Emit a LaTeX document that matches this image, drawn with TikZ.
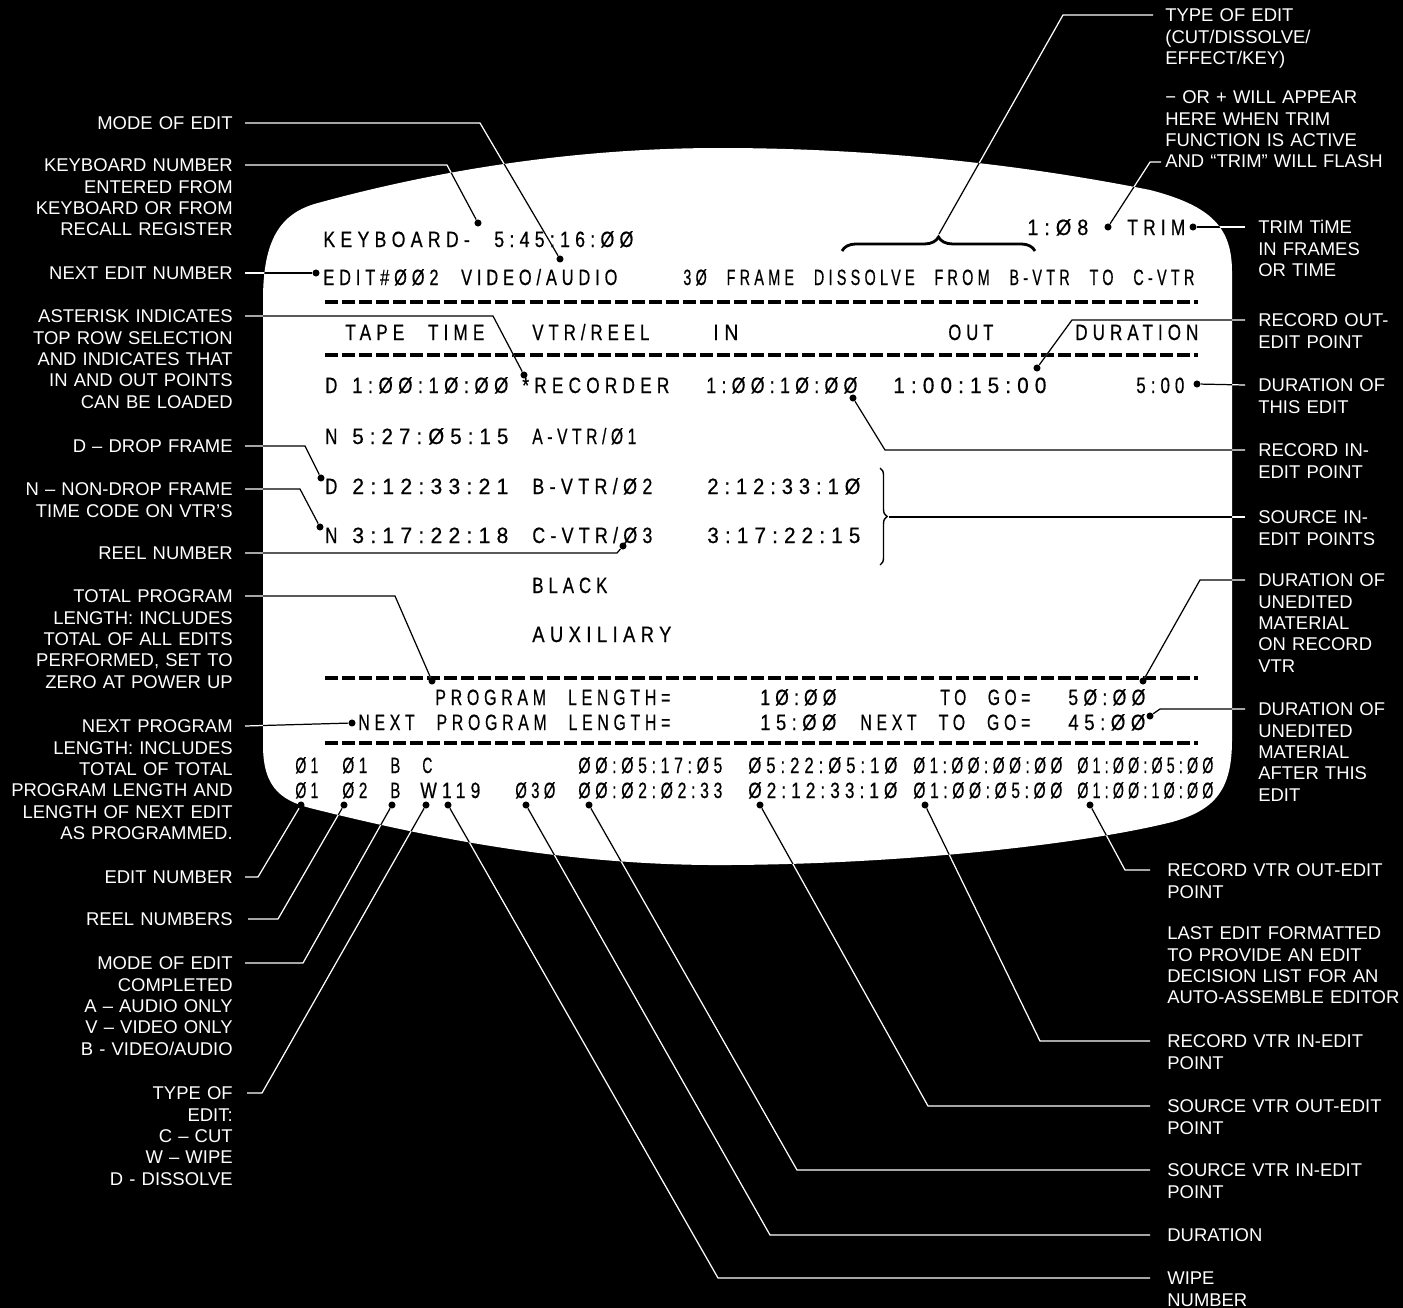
\documentclass[tikz,border=0pt]{standalone}
\usepackage{graphicx}
\usepackage{fontspec}
\setmainfont{Liberation Sans}
\newfontfamily\crtfont[FakeStretch=0.74,LetterSpace=22,WordSpace=2.4,FakeBold=0.5]{Liberation Sans}
\usetikzlibrary{decorations.pathreplacing}
\newdimen\pxunit \pxunit=0.02cm
% screen text, squeezed to the width it takes on the screen
\newcommand{\crt}[5]{%
  \node[crt] (#1) at (#2,#4) {\resizebox{\numexpr#3-#2\relax\pxunit}{\height}{#5}};%
}
\newcommand{\screenpath}{(263,300) -- (263,745) .. controls (263,790) and (283,802) .. (318,810)
  .. controls (470,848) and (600,866) .. (730,865) .. controls (900,864) and (1080,845) .. (1172,822)
  .. controls (1215,810) and (1232,790) .. (1232,740) -- (1232,272) .. controls (1232,228) and (1212,206) .. (1150,190)
  .. controls (1000,160) and (850,148) .. (720,148) .. controls (560,148) and (420,175) .. (318,203)
  .. controls (280,213) and (263,240) .. (263,300) -- cycle}
\tikzset{
  crt/.style={anchor=base west,inner sep=0pt,text=black,font={\crtfont\fontsize{12.6}{13}\selectfont}},
  lbl/.style={anchor=base east,inner sep=0pt,text width=150pt,align=right,text=white,font={\fontsize{10.5}{12.2}\selectfont}},
  rlbl/.style={lbl,anchor=base west,align=left},
  dot/.style={circle,fill=black,inner sep=0pt,minimum size=4pt},
  lead/.style={line width=0.7pt},
  dashrule/.style={line width=2pt,dash pattern=on 7.4pt off 2.3pt},
}
% all call-outs, drawn once in white and once in black inside the screen
\newcommand{\leaderlines}{%
  \draw[lead] ([shift={(12,-6.6)}]l-mode.base east) -- ++(235,0) -- (d-mode);
  \draw[lead] ([shift={(12,-6.6)}]l-kbd.base east) -- ++(202,0) -- (d-kbd);
  \draw[lead] ([shift={(12,-6.6)}]l-next.base east) -- (d-next);
  \draw[lead] ([shift={(12,-6.6)}]l-ast.base east) -- ++(248,0) -- (d-ast);
  \draw[lead] ([shift={(12,-6.6)}]l-drop.base east) -- ++(60,0) -- (d-drop);
  \draw[lead] ([shift={(12,-6.6)}]l-ndrop.base east) -- ++(55,0) -- (d-ndrop);
  \draw[lead] ([shift={(12,-6.6)}]l-reel.base east) -- ++(372,0) -- (d-reel);
  \draw[lead] ([shift={(12,-6.6)}]l-total.base east) -- ++(150,0) -- (d-total);
  \draw[lead] ([shift={(12,-6.6)}]l-nextprog.base east) -- (d-nextprog);
  \draw[lead] ([shift={(12,-6.6)}]l-ednum.base east) -- ++(13,0) -- (d-ednum);
  \draw[lead] ([shift={(15,-6.6)}]l-reels.base east) -- ++(30,0) -- (d-reels);
  \draw[lead] ([shift={(12,-6.6)}]l-modec.base east) -- ++(58,0) -- (d-modec);
  \draw[lead] ([shift={(14,-6.6)}]l-type.base east) -- ++(15,0) -- (d-type);
  \draw[lead] ([shift={(-12,-6.6)}]r-type.base west) -- ++(-90,0) -- (brace-top);
  \draw[lead] ([shift={(-4,58.5)}]r-sign.base west) -- ++(-11,0) -- (d-trimsign);
  \draw[lead] ([shift={(-13,-6.6)}]r-trim.base west) -- (d-trim);
  \draw[lead] ([shift={(-13,-6.6)}]r-recout.base west) -- ++(-173,0) -- (d-recout);
  \draw[lead] ([shift={(-13,-6.6)}]r-durthis.base west) -- (d-durthis);
  \draw[lead] ([shift={(-13,-6.6)}]r-recin.base west) -- ++(-360,0) -- (d-recin);
  \draw[lead] ([shift={(-13,-6.6)}]r-srcinpts.base west) -- (brace-src);
  \draw[lead] ([shift={(-13,-6.6)}]r-togo.base west) -- ++(-45,0) -- (d-togo);
  \draw[lead] ([shift={(-13,-6.6)}]r-nexttogo.base west) -- ++(-85,0) -- (d-nexttogo);
  \draw[lead] ([shift={(-17,-6.6)}]r-recout2.base west) -- ++(-25,0) -- (d-recout2);
  \draw[lead] ([shift={(-17,-6.6)}]r-recin2.base west) -- ++(-110,0) -- (d-recin2);
  \draw[lead] ([shift={(-17,-6.6)}]r-srcout.base west) -- ++(-222,0) -- (d-srcout);
  \draw[lead] ([shift={(-17,-6.6)}]r-srcin.base west) -- ++(-353,0) -- (d-srcin);
  \draw[lead] ([shift={(-17,-6.6)}]r-dur.base west) -- ++(-380,0) -- (d-dur);
  \draw[lead] ([shift={(-17,-6.6)}]r-wipe.base west) -- ++(-432,0) -- (d-wipe);
}

\begin{document}
\begin{tikzpicture}[x=0.02cm,y=-0.02cm]
  \path[fill=black,use as bounding box] (0,0) rectangle (1403,1308);
  \fill[white] \screenpath;

  % screen
  \crt{kbd}{323}{633}{247}{KEYBOARD- 5:45:16:ØØ}
  \crt{trimval}{1027}{1088}{235}{1:Ø8}
  \crt{trimword}{1127}{1185}{235}{TRIM}
  \crt{edit}{323}{617}{285}{EDIT\#ØØ2 VIDEO/AUDIO}
  \crt{effect}{683}{1194}{285}{3Ø FRAME DISSOLVE FROM B-VTR TO C-VTR}

  \crt{hd-tape}{345}{484}{340}{TAPE TIME}
  \crt{hd-vtr}{532}{649}{340}{VTR/REEL}
  \crt{hd-in}{713}{738}{340}{IN}
  \crt{hd-out}{948}{993}{340}{OUT}
  \crt{hd-dur}{1075}{1198}{340}{DURATION}

  \crt{rec-df}{325}{337}{393}{D}
  \crt{rec-tc}{352}{508}{393}{1:ØØ:1Ø:ØØ}
  \crt{rec-name}{522}{669}{393}{*RECORDER}
  \crt{rec-in}{706}{857}{393}{1:ØØ:1Ø:ØØ}
  \crt{rec-out}{893}{1046}{393}{1:00:15:00}
  \crt{rec-dur}{1136}{1184}{393}{5:00}

  \crt{a-df}{325}{337}{444}{N}
  \crt{a-tc}{352}{508}{444}{5:27:Ø5:15}
  \crt{a-name}{532}{636}{444}{A-VTR/Ø1}

  \crt{b-df}{325}{337}{494}{D}
  \crt{b-tc}{352}{508}{494}{2:12:33:21}
  \crt{b-name}{532}{652}{494}{B-VTR/Ø2}
  \crt{b-in}{707}{860}{494}{2:12:33:1Ø}

  \crt{c-df}{325}{337}{543}{N}
  \crt{c-tc}{352}{508}{543}{3:17:22:18}
  \crt{c-name}{532}{652}{543}{C-VTR/Ø3}
  \crt{c-in}{707}{860}{543}{3:17:22:15}

  \crt{black}{532}{607}{593}{BLACK}
  \crt{aux}{532}{671}{642}{AUXILIARY}

  \crt{pl-txt}{435}{670}{705}{PROGRAM LENGTH=}
  \crt{pl-val}{760}{836}{705}{1Ø:ØØ}
  \crt{tg-txt}{940}{1030}{705}{TO GO=}
  \crt{tg-val}{1068}{1145}{705}{5Ø:ØØ}
  \crt{npl-txt}{358}{670}{730}{NEXT PROGRAM LENGTH=}
  \crt{npl-val}{760}{836}{730}{15:ØØ}
  \crt{ntg-txt}{860}{1030}{730}{NEXT TO GO=}
  \crt{ntg-val}{1068}{1145}{730}{45:ØØ}

  \crt{e1-a}{295}{318}{773}{Ø1}
  \crt{e1-b}{342}{367}{773}{Ø1}
  \crt{e1-c}{390}{400}{773}{B}
  \crt{e1-d}{422}{432}{773}{C}
  \crt{e1-e}{578}{722}{773}{ØØ:Ø5:17:Ø5}
  \crt{e1-f}{748}{897}{773}{Ø5:22:Ø5:1Ø}
  \crt{e1-g}{913}{1062}{773}{Ø1:ØØ:ØØ:ØØ}
  \crt{e1-h}{1077}{1213}{773}{Ø1:ØØ:Ø5:ØØ}
  \crt{e2-a}{295}{318}{798}{Ø1}
  \crt{e2-b}{342}{367}{798}{Ø2}
  \crt{e2-c}{390}{400}{798}{B}
  \crt{e2-d}{420}{480}{798}{W119}
  \crt{e2-e}{515}{555}{798}{Ø3Ø}
  \crt{e2-f}{578}{722}{798}{ØØ:Ø2:Ø2:33}
  \crt{e2-g}{748}{897}{798}{Ø2:12:33:1Ø}
  \crt{e2-h}{913}{1062}{798}{Ø1:ØØ:Ø5:ØØ}
  \crt{e2-i}{1077}{1213}{798}{Ø1:ØØ:1Ø:ØØ}

  \foreach \y in {302,355,678,743}
    \draw[dashrule] (325,\y) -- (1198,\y);

  \draw[decorate,decoration={brace,amplitude=8pt},line width=1.6pt] (842,251) -- (1035,251);
  \coordinate (brace-top) at (939,234);
  \draw[decorate,decoration={brace,amplitude=4pt},line width=0.8pt] (880,468) -- (880,565);
  \coordinate (brace-src) at (889,517);

  % labels, left
  \node[lbl] (l-mode) at (233,129.6) {MODE OF EDIT};
  \node[lbl] (l-kbd) at (233,171.6) {KEYBOARD NUMBER\\ENTERED FROM\\KEYBOARD OR FROM\\RECALL REGISTER};
  \node[lbl] (l-next) at (233,279.6) {NEXT EDIT NUMBER};
  \node[lbl] (l-ast) at (233,322.6) {ASTERISK INDICATES\\TOP ROW SELECTION\\AND INDICATES THAT\\IN AND OUT POINTS\\CAN BE LOADED};
  \node[lbl] (l-drop) at (233,452.6) {D – DROP FRAME};
  \node[lbl] (l-ndrop) at (233,495.6) {N – NON-DROP FRAME\\TIME CODE ON VTR’S};
  \node[lbl] (l-reel) at (233,559.6) {REEL NUMBER};
  \node[lbl] (l-total) at (233,602.6) {TOTAL PROGRAM\\LENGTH: INCLUDES\\TOTAL OF ALL EDITS\\PERFORMED, SET TO\\ZERO AT POWER UP};
  \node[lbl] (l-nextprog) at (233,732.6) {NEXT PROGRAM\\LENGTH: INCLUDES\\TOTAL OF TOTAL\\PROGRAM LENGTH AND\\LENGTH OF NEXT EDIT\\AS PROGRAMMED.};
  \node[lbl] (l-ednum) at (233,883.6) {EDIT NUMBER};
  \node[lbl] (l-reels) at (233,925.6) {REEL NUMBERS};
  \node[lbl] (l-modec) at (233,969.6) {MODE OF EDIT\\COMPLETED\\A – AUDIO ONLY\\V – VIDEO ONLY\\B - VIDEO/AUDIO};
  \node[lbl] (l-type) at (233,1099.6) {TYPE OF\\EDIT:\\C – CUT\\W – WIPE\\D - DISSOLVE};

  % labels, right
  \node[rlbl] (r-type) at (1165,21.6) {TYPE OF EDIT\\(CUT/DISSOLVE/\\EFFECT/KEY)};
  \node[rlbl] (r-sign) at (1165,103.6) {− OR + WILL APPEAR\\HERE WHEN TRIM\\FUNCTION IS ACTIVE\\AND “TRIM” WILL FLASH};
  \node[rlbl] (r-trim) at (1258,233.6) {TRIM TiME\\IN FRAMES\\OR TIME};
  \node[rlbl] (r-recout) at (1258,326.6) {RECORD OUT-\\EDIT POINT};
  \node[rlbl] (r-durthis) at (1258,391.6) {DURATION OF\\THIS EDIT};
  \node[rlbl] (r-recin) at (1258,456.6) {RECORD IN-\\EDIT POINT};
  \node[rlbl] (r-srcinpts) at (1258,523.6) {SOURCE IN-\\EDIT POINTS};
  \node[rlbl] (r-togo) at (1258,586.6) {DURATION OF\\UNEDITED\\MATERIAL\\ON RECORD\\VTR};
  \node[rlbl] (r-nexttogo) at (1258,715.6) {DURATION OF\\UNEDITED\\MATERIAL\\AFTER THIS\\EDIT};
  \node[rlbl] (r-recout2) at (1167,876.6) {RECORD VTR OUT-EDIT\\POINT};
  \node[rlbl] (r-last) at (1167,939.6) {LAST EDIT FORMATTED\\TO PROVIDE AN EDIT\\DECISION LIST FOR AN\\AUTO-ASSEMBLE EDITOR};
  \node[rlbl] (r-recin2) at (1167,1047.6) {RECORD VTR IN-EDIT\\POINT};
  \node[rlbl] (r-srcout) at (1167,1112.6) {SOURCE VTR OUT-EDIT\\POINT};
  \node[rlbl] (r-srcin) at (1167,1176.6) {SOURCE VTR IN-EDIT\\POINT};
  \node[rlbl] (r-dur) at (1167,1241.6) {DURATION};
  \node[rlbl] (r-wipe) at (1167,1284.6) {WIPE\\NUMBER};

  % dots on the screen
  \node[dot] (d-kbd) at (478,223) {};
  \node[dot] (d-mode) at (560,259) {};
  \node[dot] (d-next) at (316,273) {};
  \node[dot] (d-ast) at (524,375) {};
  \node[dot] (d-drop) at (321,478) {};
  \node[dot] (d-ndrop) at (320,527) {};
  \node[dot] (d-reel) at (623,546) {};
  \node[dot] (d-total) at (432,681) {};
  \node[dot] (d-nextprog) at (352,723) {};
  \node[dot] (d-ednum) at (301,805) {};
  \node[dot] (d-reels) at (344,805) {};
  \node[dot] (d-modec) at (392,805) {};
  \node[dot] (d-type) at (426,805) {};
  \node[dot] (d-wipe) at (448,805) {};
  \node[dot] (d-dur) at (526,805) {};
  \node[dot] (d-srcin) at (589,805) {};
  \node[dot] (d-srcout) at (760,805) {};
  \node[dot] (d-recin2) at (925,805) {};
  \node[dot] (d-recout2) at (1090,805) {};
  \node[dot] (d-trimsign) at (1108,227) {};
  \node[dot] (d-trim) at (1193,227) {};
  \node[dot] (d-recout) at (1037,368) {};
  \node[dot] (d-durthis) at (1197,384) {};
  \node[dot] (d-recin) at (853,398) {};
  \node[dot] (d-togo) at (1143,681) {};
  \node[dot] (d-nexttogo) at (1150,716) {};

  \begin{scope}[white]
    \leaderlines
  \end{scope}
  \begin{scope}
    \clip \screenpath;
    \begin{scope}[black]
      \leaderlines
    \end{scope}
  \end{scope}
\end{tikzpicture}
\end{document}
